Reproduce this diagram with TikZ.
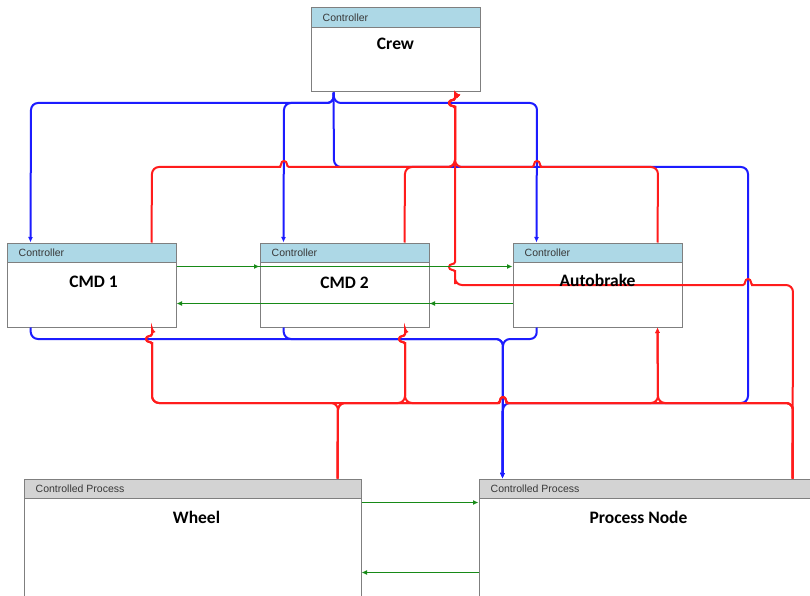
\documentclass[tikz,border=0pt]{standalone}
\usepackage{fontspec}
\setmainfont{Liberation Sans}
\newfontfamily\titlefont{Carlito}
\usetikzlibrary{arrows.meta,calc}
\definecolor{hdrblue}{HTML}{ADD8E6}
\definecolor{hdrgray}{HTML}{D3D3D3}
\definecolor{boxgray}{HTML}{7F7F7F}
\definecolor{lblue}{HTML}{1C1CFF}
\definecolor{lred}{HTML}{FF1C1C}
\definecolor{lgreen}{HTML}{178A17}
\begin{document}
\begin{tikzpicture}[x=1pt,y=-1pt,
  box/.style={draw=boxgray, line width=1pt, fill=white, inner sep=0pt},
  ctrlbox/.style={box, minimum width=169pt, minimum height=84pt,
    path picture={\fill[hdrblue] (path picture bounding box.north west) rectangle ([yshift=-19.5pt]path picture bounding box.north east);
      \draw[boxgray,line width=1.2pt] ([yshift=-19.5pt]path picture bounding box.north west) -- ([yshift=-19.5pt]path picture bounding box.north east);}},
  procbox/.style={box, minimum width=337pt, minimum height=150pt,
    path picture={\fill[hdrgray] (path picture bounding box.north west) rectangle ([yshift=-19.5pt]path picture bounding box.north east);
      \draw[boxgray,line width=1.2pt] ([yshift=-19.5pt]path picture bounding box.north west) -- ([yshift=-19.5pt]path picture bounding box.north east);}},
  hdr/.style={font=\fontsize{10.5}{12}\selectfont, text=black!78, inner sep=0pt, anchor=west},
  ttl/.style={font=\titlefont\bfseries\fontsize{17.5}{20}\selectfont, inner sep=0pt},
  tip/.style={-{Latex[length=5.5pt,width=5pt]}},
  bl/.style={draw=lblue, line width=2pt, rounded corners=7pt, tip},
  rd/.style={draw=lred, line width=2pt, rounded corners=7pt, tip},
  gr/.style={draw=lgreen, line width=1.8pt, tip},
  jumpR/.style 2 args={insert path={-- ({#1-10},#2) [sharp corners] -- ({#1-5},#2) .. controls ({#1-2},#2) and ({#1-4},{#2-6}) .. (#1,{#2-6}) .. controls ({#1+4},{#2-6}) and ({#1+2},#2) .. ({#1+5},#2) -- ({#1+10},#2) [rounded corners=7pt]}},
  jumpL/.style 2 args={insert path={-- ({#1+10},#2) [sharp corners] -- ({#1+5},#2) .. controls ({#1+2},#2) and ({#1+4},{#2-6}) .. (#1,{#2-6}) .. controls ({#1-4},{#2-6}) and ({#1-2},#2) .. ({#1-5},#2) -- ({#1-10},#2) [rounded corners=7pt]}},
  jumpU/.style 2 args={insert path={-- (#1,{#2+10}) [sharp corners] -- (#1,{#2+5}) .. controls (#1,{#2+2}) and ({#1-6},{#2+4}) .. ({#1-6},#2) .. controls ({#1-6},{#2-4}) and (#1,{#2-2}) .. (#1,{#2-5}) -- (#1,{#2-10}) [rounded corners=7pt]}},
]
\useasboundingbox (0,0) rectangle (810,596);
\clip (0,0) rectangle (810,596);
\fill[white] (0,0) rectangle (810,596);

% boxes
\node[ctrlbox] (crew) at (395.5,50) {};
\node[ctrlbox] (cmd1) at (91.5,285) {};
\node[ctrlbox] (cmd2) at (344.5,285) {};
\node[ctrlbox] (ab) at (597.5,285) {};
\node[procbox] (wheel) at (192.5,554) {};
\node[procbox] (pn) at (647.5,554) {};

% ports
\coordinate (crewB) at ([xshift=23pt]crew.south west);
\coordinate (crewR) at ([xshift=144pt]crew.south west);
\coordinate (c1Tin) at ([xshift=24pt]cmd1.north west);
\coordinate (c1Tout) at ([xshift=145pt]cmd1.north west);
\coordinate (c1Bout) at ([xshift=24pt]cmd1.south west);
\coordinate (c1Bin) at ([xshift=145pt]cmd1.south west);
\coordinate (c2Tin) at ([xshift=24pt]cmd2.north west);
\coordinate (c2Tout) at ([xshift=145pt]cmd2.north west);
\coordinate (c2Bout) at ([xshift=24pt]cmd2.south west);
\coordinate (c2Bin) at ([xshift=145pt]cmd2.south west);
\coordinate (abTin) at ([xshift=24pt]ab.north west);
\coordinate (abTout) at ([xshift=145pt]ab.north west);
\coordinate (abBout) at ([xshift=24pt]ab.south west);
\coordinate (abBin) at ([xshift=145pt]ab.south west);
\coordinate (wOut) at ([xshift=314pt]wheel.north west);
\coordinate (pnIn) at ([xshift=24pt]pn.north west);
\coordinate (pnOut) at ([xshift=314pt]pn.north west);

% blue control actions
\draw[bl] (crewB) -- (334,103) -- (31,103) -- (c1Tin);
\draw[bl] (crewB) -- (334,103) -- (284,103) -- (c2Tin);
\draw[bl] (crewB) -- (334,103) -- (537,103) -- (abTin);
\draw[bl] (crewB) -- (334,167) -- (748,167) -- (748,403) -- (503,403) -- (pnIn);
\draw[bl] (c1Bout) -- (31,339) -- (503,339) -- (pnIn);
\draw[bl] (c2Bout) -- (284,339) -- (503,339) -- (pnIn);
\draw[bl] (abBout) -- (537,339) -- (503,339) -- (pnIn);

% red feedback
\draw[rd] (wOut) -- (338,403) -- (152,403) [jumpU={152}{339}] -- (c1Bin);
\draw[rd] (wOut) -- (338,403) -- (405,403) [jumpU={405}{339}] -- (c2Bin);
\draw[rd] (wOut) -- (338,403) [jumpR={503}{403}] -- (658,403) -- (abBin);
\draw[rd] (pnOut) -- (793,403) -- (658,403) -- (abBin);
\draw[rd] (pnOut) -- (793,403) [jumpL={503}{403}] -- (405,403) [jumpU={405}{339}] -- (c2Bin);
\draw[rd] (pnOut) -- (793,403) [jumpL={503}{403}] -- (152,403) [jumpU={152}{339}] -- (c1Bin);
\draw[rd] (pnOut) -- (793,285) [jumpL={748}{285}] -- (455,285) [jumpU={455}{267}] [jumpU={455}{103}] -- (crewR);
\draw[rd] (c1Tout) -- (152,167) [jumpR={284}{167}] -- (455,167) [jumpU={455}{103}] -- (crewR);
\draw[rd] (c2Tout) -- (405,167) -- (455,167) [jumpU={455}{103}] -- (crewR);
\draw[rd] (abTout) -- (658,167) [jumpL={537}{167}] -- (455,167) [jumpU={455}{103}] -- (crewR);

% green flows
\coordinate (g1s) at ([yshift=-24pt]cmd1.north east);
\coordinate (g1a) at ([yshift=-24pt]cmd2.north west);
\coordinate (g1b) at ([yshift=-24pt]ab.north west);
\coordinate (g2s) at ([yshift=-61pt]ab.north west);
\coordinate (g2a) at ([yshift=-61pt]cmd2.north east);
\coordinate (g2b) at ([yshift=-61pt]cmd1.north east);
\coordinate (g3s) at ([yshift=-24pt]wheel.north east);
\coordinate (g3e) at ([yshift=-24pt]pn.north west);
\coordinate (g4s) at ([yshift=-94pt]pn.north west);
\coordinate (g4e) at ([yshift=-94pt]wheel.north east);
\draw[gr] (g1s) -- (g1a);
\draw[gr] (g1s) -- (g1b);
\draw[gr] (g2s) -- (g2a);
\draw[gr] (g2s) -- (g2b);
\draw[gr] (g3s) -- (g3e);
\draw[gr] (g4s) -- (g4e);

% texts
\node[hdr] (crewh) at ([xshift=12pt,yshift=-10pt]crew.north west) {Controller};
\node[hdr] (cmd1h) at ([xshift=12pt,yshift=-10pt]cmd1.north west) {Controller};
\node[hdr] (cmd2h) at ([xshift=12pt,yshift=-10pt]cmd2.north west) {Controller};
\node[hdr] (abh) at ([xshift=12pt,yshift=-10pt]ab.north west) {Controller};
\node[hdr] (wheelh) at ([xshift=12pt,yshift=-10pt]wheel.north west) {Controlled Process};
\node[hdr] (pnh) at ([xshift=12pt,yshift=-10pt]pn.north west) {Controlled Process};
\node[ttl] (crewt) at ([yshift=-36pt]crew.north) {Crew};
\node[ttl] (cmd1t) at ([xshift=2pt,yshift=-39pt]cmd1.north) {CMD 1};
\node[ttl] (cmd2t) at ([yshift=-40pt]cmd2.north) {CMD 2};
\node[ttl] (abt) at ([yshift=-38pt]ab.north) {Autobrake};
\node[ttl] (wheelt) at ([xshift=4pt,yshift=-39pt]wheel.north) {Wheel};
\node[ttl] (pnt) at ([xshift=160pt,yshift=-39pt]pn.north west) {Process Node};
\end{tikzpicture}
\end{document}
